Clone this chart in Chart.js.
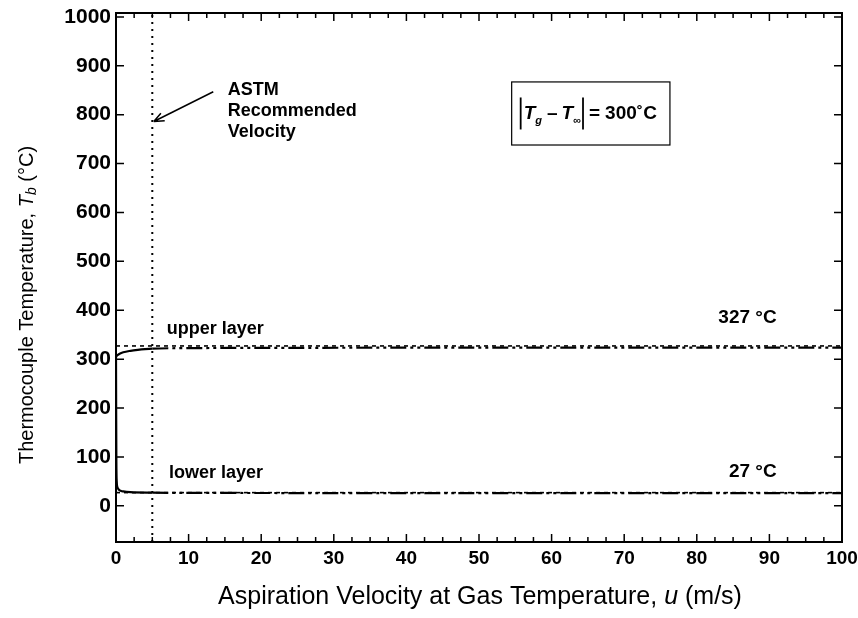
<!DOCTYPE html>
<html>
<head>
<meta charset="utf-8">
<script src="https://cdn.jsdelivr.net/npm/chart.js@4.4.1/dist/chart.umd.min.js"></script>
<style>
  html, body { margin: 0; padding: 0; background: #fff; }
  #wrap { width: 858px; height: 618px; }
</style>
</head>
<body>
<div id="wrap"><canvas id="chart" width="858" height="618"></canvas></div>
<script>
"use strict";

// data
const upperVelocity = [0, 0.2, 0.5, 1, 2, 3, 4, 5, 10, 20, 50, 100];
const upperTemp = [305, 308, 311, 314, 317, 319, 320.5, 321.5, 322.5, 323, 323.5, 323.5];
const lowerVelocity = [0, 0.02, 0.05, 0.1, 0.2, 0.4, 0.7, 1, 2, 5, 10, 50, 100];
const lowerTemp = [305, 200, 90, 50, 38, 33, 30.5, 29.5, 28, 27, 26.5, 26, 26];
const upperLimit = 327;
const lowerLimit = 27;
const astmVelocity = 5;
const xTicks = [0, 10, 20, 30, 40, 50, 60, 70, 80, 90, 100];
const yTicks = [0, 100, 200, 300, 400, 500, 600, 700, 800, 900, 1000];
const yMin = -74;
const yMax = 1008;

const FONT = '"Liberation Sans", Arial, sans-serif';

function pairs(xs, ys) {
  return xs.map((x, i) => ({ x: x, y: ys[i] }));
}

// solid near the wall, dash-dot-dot after the ASTM velocity
function curveDash(ctx) {
  return ctx.p0.parsed.x >= astmVelocity ? [16, 4, 3, 4, 3, 4] : undefined;
}

const data = {
  datasets: [
    {
      label: "upper limit",
      data: pairs([0, 100], [upperLimit, upperLimit]),
      borderColor: "#000",
      borderWidth: 1.6,
      borderDash: [4, 4],
    },
    {
      label: "lower limit",
      data: pairs([0, 100], [lowerLimit, lowerLimit]),
      borderColor: "#000",
      borderWidth: 1.6,
      borderDash: [4, 4],
    },
    {
      label: "upper layer",
      data: pairs(upperVelocity, upperTemp),
      borderColor: "#000",
      borderWidth: 2.2,
      cubicInterpolationMode: "monotone",
      segment: { borderDash: curveDash },
    },
    {
      label: "lower layer",
      data: pairs(lowerVelocity, lowerTemp),
      borderColor: "#000",
      borderWidth: 2.2,
      cubicInterpolationMode: "monotone",
      segment: { borderDash: curveDash },
    },
    {
      label: "ASTM",
      data: pairs([astmVelocity, astmVelocity], [yMin, yMax]),
      borderColor: "#000",
      borderWidth: 2,
      borderDash: [2, 5],
    },
  ],
};

// inside tick marks on all four sides + frame
const frameTicks = {
  id: "frameTicks",
  afterDatasetsDraw(chart) {
    const { ctx, chartArea: a, scales: { x, y } } = chart;
    ctx.save();
    ctx.strokeStyle = "#000";
    ctx.lineWidth = 1.5;
    ctx.beginPath();
    for (let v = 0; v <= 100; v += 2.5) {
      const px = x.getPixelForValue(v);
      const len = v % 10 === 0 ? 8 : 5;
      ctx.moveTo(px, a.bottom); ctx.lineTo(px, a.bottom - len);
      ctx.moveTo(px, a.top); ctx.lineTo(px, a.top + len);
    }
    yTicks.forEach((v) => {
      const py = y.getPixelForValue(v);
      ctx.moveTo(a.left, py); ctx.lineTo(a.left + 8, py);
      ctx.moveTo(a.right, py); ctx.lineTo(a.right - 8, py);
    });
    ctx.stroke();
    ctx.lineWidth = 2;
    ctx.strokeRect(a.left, a.top, a.right - a.left, a.bottom - a.top);
    ctx.restore();
  },
};

// draws a run of [text, font, dy] pieces starting at x
function drawPieces(ctx, pieces, x, y) {
  pieces.forEach((p) => {
    ctx.font = p[1];
    ctx.fillText(p[0], x, y + (p[2] || 0));
    x += ctx.measureText(p[0]).width;
  });
  return x;
}
function piecesWidth(ctx, pieces) {
  let w = 0;
  pieces.forEach((p) => { ctx.font = p[1]; w += ctx.measureText(p[0]).width; });
  return w;
}

const labels = {
  id: "labels",
  afterDraw(chart) {
    const { ctx, scales: { x, y } } = chart;
    ctx.save();
    ctx.fillStyle = "#000";
    ctx.textBaseline = "middle";

    const bold = "bold 18px " + FONT;
    ctx.font = bold;
    ctx.fillText("upper layer", x.getPixelForValue(7.0), y.getPixelForValue(361));
    ctx.fillText("lower layer", x.getPixelForValue(7.3), y.getPixelForValue(67));
    ctx.textAlign = "right";
    ctx.font = "bold 19px " + FONT;
    ctx.fillText("327 °C", x.getPixelForValue(91), y.getPixelForValue(384));
    ctx.fillText("27 °C", x.getPixelForValue(91), y.getPixelForValue(70));
    ctx.textAlign = "left";
    ctx.font = bold;

    const astmX = x.getPixelForValue(15.4);
    ctx.fillText("ASTM", astmX, y.getPixelForValue(851));
    ctx.fillText("Recommended", astmX, y.getPixelForValue(808));
    ctx.fillText("Velocity", astmX, y.getPixelForValue(764));

    // arrow to the dotted line
    const x1 = x.getPixelForValue(13.4), y1 = y.getPixelForValue(847);
    const x2 = x.getPixelForValue(5.2), y2 = y.getPixelForValue(786);
    ctx.strokeStyle = "#000";
    ctx.lineWidth = 1.5;
    ctx.beginPath();
    ctx.moveTo(x1, y1); ctx.lineTo(x2, y2);
    const ang = Math.atan2(y2 - y1, x2 - x1);
    ctx.moveTo(x2, y2);
    ctx.lineTo(x2 - 11 * Math.cos(ang - 0.4), y2 - 11 * Math.sin(ang - 0.4));
    ctx.moveTo(x2, y2);
    ctx.lineTo(x2 - 11 * Math.cos(ang + 0.4), y2 - 11 * Math.sin(ang + 0.4));
    ctx.stroke();

    // formula box
    const bx1 = x.getPixelForValue(54.5), bx2 = x.getPixelForValue(76.3);
    const by1 = y.getPixelForValue(867), by2 = y.getPixelForValue(738);
    ctx.lineWidth = 1.2;
    ctx.strokeRect(bx1, by1, bx2 - bx1, by2 - by1);
    const cy = (by1 + by2) / 2;
    const big = "bold 19px " + FONT;
    const it = "italic bold 19px " + FONT;
    const sub = "italic bold 11px " + FONT;
    let px = bx1 + 9;
    ctx.lineWidth = 1.8;
    ctx.beginPath(); ctx.moveTo(px, cy - 16); ctx.lineTo(px, cy + 16); ctx.stroke();
    px += 3;
    px = drawPieces(ctx, [["T", it], ["g", sub, 7]], px, cy) + 5;
    px = drawPieces(ctx, [["\u2013", big]], px, cy) + 4;
    px = drawPieces(ctx, [["T", it], ["\u221e", sub, 7]], px, cy) + 2;
    ctx.beginPath(); ctx.moveTo(px, cy - 16); ctx.lineTo(px, cy + 16); ctx.stroke();
    px += 6;
    px = drawPieces(ctx, [["=", big]], px, cy) + 5;
    drawPieces(ctx, [["300\u02daC", big]], px, cy);

    // axis titles
    const xNorm = "25px " + FONT;
    const xItal = "italic 25px " + FONT;
    const xt = [["Aspiration Velocity at Gas Temperature, ", xNorm], ["u", xItal], [" (m/s)", xNorm]];
    drawPieces(ctx, xt, 480 - piecesWidth(ctx, xt) / 2, 597);

    const norm = "20px " + FONT;
    const ital = "italic 20px " + FONT;
    const yt = [["Thermocouple Temperature, ", norm], ["T", ital], ["b", "italic 14px " + FONT, 5], [" (\u00b0C)", norm]];
    ctx.translate(27, 305);
    ctx.rotate(-Math.PI / 2);
    drawPieces(ctx, yt, -piecesWidth(ctx, yt) / 2, 0);
    ctx.restore();
  },
};

const config = {
  type: "line",
  data: data,
  options: {
    responsive: false,
    animation: false,
    layout: { padding: { top: 13, right: 16, left: 0, bottom: 0 } },
    elements: { point: { radius: 0 }, line: { tension: 0 } },
    plugins: { legend: { display: false }, tooltip: { enabled: false } },
    scales: {
      x: {
        type: "linear",
        min: 0,
        max: 100,
        grid: { display: false, drawTicks: false },
        border: { display: false },
        afterBuildTicks: (s) => { s.ticks = xTicks.map((v) => ({ value: v })); },
        afterFit: (s) => { s.height = 76; s.paddingLeft = 0; s.paddingRight = 0; },
        ticks: {
          padding: 5,
          color: "#000",
          font: { family: FONT, size: 19, weight: "bold" },
          callback: (v) => String(v),
        },
      },
      y: {
        type: "linear",
        min: yMin,
        max: yMax,
        grid: { display: false, drawTicks: false },
        border: { display: false },
        afterBuildTicks: (s) => { s.ticks = yTicks.map((v) => ({ value: v })); },
        afterFit: (s) => { s.width = 116; s.paddingTop = 0; s.paddingBottom = 0; },
        ticks: {
          padding: 5,
          color: "#000",
          font: { family: FONT, size: 21, weight: "bold" },
          callback: (v) => String(v),
        },
      },
    },
  },
  plugins: [frameTicks, labels],
};

const tempChart = new Chart(document.getElementById("chart"), config);
</script>
</body>
</html>
